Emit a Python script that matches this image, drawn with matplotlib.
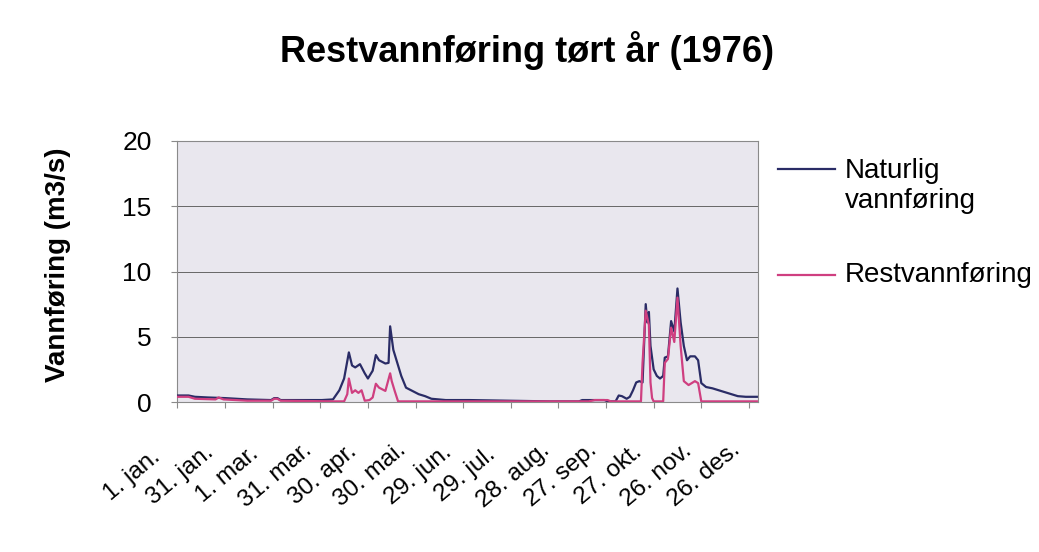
import matplotlib
matplotlib.use("Agg")
import matplotlib.pyplot as plt
from matplotlib.lines import Line2D
from matplotlib.transforms import ScaledTranslation

plt.rcParams["font.family"] = ["Liberation Sans", "DejaVu Sans"]

# dag i året (1 = 1. jan., 1976 er skuddår) og vannføring (m3/s)
dag_naturlig = [1, 8, 12, 20, 31, 45, 60, 62, 64, 66, 80, 92, 99, 103, 106, 109, 111,
                113, 116, 119, 121, 124, 126, 128, 132, 134, 135, 137, 139, 142, 145,
                149, 153, 157, 161, 170, 185, 210, 235, 254, 256, 270, 272, 277, 279,
                281, 284, 286, 288, 290, 292, 294, 296, 297, 298, 299, 301, 303, 305,
                307, 308, 310, 312, 314, 316, 318, 320, 322, 324, 327, 329, 331, 334,
                338, 342, 346, 350, 354, 359, 366]
naturlig = [0.5, 0.5, 0.4, 0.35, 0.3, 0.2, 0.15, 0.3, 0.3, 0.15, 0.15, 0.15, 0.2, 0.9,
            1.8, 3.8, 2.8, 2.65, 2.9, 2.2, 1.8, 2.4, 3.6, 3.2, 2.95, 3.0, 5.8, 4.0, 3.2,
            2.0, 1.1, 0.85, 0.6, 0.45, 0.25, 0.15, 0.15, 0.1, 0.05, 0.05, 0.15, 0.15,
            0.05, 0.05, 0.5, 0.45, 0.25, 0.4, 0.9, 1.5, 1.6, 1.5, 7.5, 6.1, 6.9, 4.3,
            2.5, 2.0, 1.8, 2.0, 3.4, 3.5, 6.2, 5.4, 8.7, 6.1, 4.3, 3.2, 3.5, 3.5, 3.2,
            1.45, 1.15, 1.05, 0.9, 0.75, 0.6, 0.45, 0.4, 0.4]

dag_rest = [1, 8, 12, 25, 27, 30, 45, 60, 62, 64, 66, 100, 106, 108, 109, 111, 113, 115,
            117, 119, 122, 124, 126, 128, 132, 135, 136, 138, 140, 160, 200, 260, 264,
            272, 274, 293, 294, 296, 298, 299, 300, 301, 307, 308, 310, 312, 314, 316,
            318, 320, 323, 327, 329, 331, 366]
rest = [0.4, 0.4, 0.25, 0.2, 0.35, 0.2, 0.1, 0.1, 0.25, 0.25, 0.1, 0.05, 0.05, 0.6, 1.8,
        0.7, 0.9, 0.7, 0.9, 0.1, 0.15, 0.35, 1.4, 1.1, 0.85, 2.2, 1.6, 0.8, 0.05, 0.05,
        0.05, 0.05, 0.15, 0.15, 0.05, 0.05, 3.0, 7.0, 5.9, 1.5, 0.3, 0.05, 0.05, 3.0,
        3.3, 5.7, 4.6, 8.0, 4.3, 1.6, 1.3, 1.6, 1.45, 0.05, 0.05]

tick_dager = [1, 31, 61, 91, 121, 151, 181, 211, 241, 271, 301, 331, 361]
tick_tekst = ["1. jan.", "31. jan.", "1. mar.", "31. mar.", "30. apr.", "30. mai.",
              "29. jun.", "29. jul.", "28. aug.", "27. sep.", "27. okt.", "26. nov.",
              "26. des."]

farge_naturlig = "#2a2c66"
farge_rest = "#cf3f80"

fig = plt.figure(figsize=(10.39, 5.52), dpi=100)
ax = fig.add_axes([0.170, 0.2717, 0.5592, 0.4729])
ax.set_facecolor("#e9e7ee")

ax.plot(dag_naturlig, naturlig, color=farge_naturlig, lw=1.6, zorder=3)
ax.plot(dag_rest, rest, color=farge_rest, lw=1.6, zorder=4)

ax.set_xlim(0.5, 366.5)
ax.set_ylim(0, 20)
ax.set_yticks([0, 5, 10, 15, 20])
ax.yaxis.grid(True, color="#666666", lw=0.7)
ax.set_axisbelow(True)
for s in ax.spines.values():
    s.set_color("#8a8a8a")
    s.set_linewidth(0.8)
ax.tick_params(axis="y", labelsize=19, length=4, color="#8a8a8a", pad=14)
ax.tick_params(axis="x", length=4, color="#8a8a8a")

ax.set_xticks(tick_dager)
ax.set_xticklabels([])
flytt = ScaledTranslation(-0.45, -0.73, fig.dpi_scale_trans)
for d, t in zip(tick_dager, tick_tekst):
    ax.text(d, 0, t, transform=ax.get_xaxis_transform() + flytt, rotation=40,
            rotation_mode="anchor", ha="center", va="center", fontsize=17.5)

fig.text(58 / 1039, 1 - 265 / 552, "Vannføring (m3/s)", rotation=90, ha="center",
         va="center", fontsize=20, fontweight="bold")
fig.text(527 / 1039, 1 - 50 / 552, "Restvannføring tørt år (1976)", ha="center",
         va="center", fontsize=26, fontweight="bold")

# forklaring til høyre
fig.add_artist(Line2D([778 / 1039, 835 / 1039], [1 - 169 / 552] * 2,
                      color=farge_naturlig, lw=1.6))
fig.text(845 / 1039, 1 - 186 / 552, "Naturlig\nvannføring", ha="left", va="center",
         fontsize=20, linespacing=1.2)
fig.add_artist(Line2D([778 / 1039, 835 / 1039], [1 - 275 / 552] * 2,
                      color=farge_rest, lw=1.6))
fig.text(845 / 1039, 1 - 275 / 552, "Restvannføring", ha="left", va="center",
         fontsize=20)

fig.savefig("out.png", dpi=100)
